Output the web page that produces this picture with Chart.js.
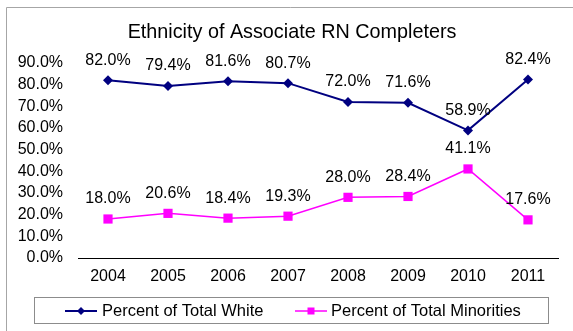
<!DOCTYPE html>
<html>
<head>
<meta charset="utf-8">
<script src="https://cdn.jsdelivr.net/npm/chart.js@4/dist/chart.umd.min.js"></script>
<style>
  html, body { margin: 0; padding: 0; background: #fff; }
  #wrap { width: 573px; height: 331px; position: relative; }
</style>
</head>
<body>
<div id="wrap"><canvas id="c" width="573" height="331"></canvas></div>
<script>
const title = 'Ethnicity of Associate RN Completers';
const years = ['2004', '2005', '2006', '2007', '2008', '2009', '2010', '2011'];
const whiteLabel = 'Percent of Total White';
const minorityLabel = 'Percent of Total Minorities';
const whiteValues = [82.0, 79.4, 81.6, 80.7, 72.0, 71.6, 58.9, 82.4];
const minorityValues = [18.0, 20.6, 18.4, 19.3, 28.0, 28.4, 41.1, 17.6];
const yMin = 0, yMax = 90, yStep = 10;

const NAVY = '#000080';
const MAGENTA = '#FF00FF';
const FONT = '"Liberation Sans", Arial, sans-serif';

const decorPlugin = {
  id: 'decor',
  beforeDraw(chart) {
    const ctx = chart.ctx;
    ctx.save();
    ctx.fillStyle = '#fff';
    ctx.fillRect(0, 0, chart.width, chart.height);
    ctx.strokeStyle = '#a6a6a6';
    ctx.lineWidth = 1;
    ctx.beginPath();
    ctx.moveTo(6.5, 400);
    ctx.lineTo(6.5, 7.5);
    ctx.lineTo(700, 7.5);
    ctx.stroke();
    // title
    ctx.fillStyle = '#000';
    ctx.font = '19.8px ' + FONT;
    ctx.textAlign = 'center';
    ctx.textBaseline = 'middle';
    ctx.fillText(title, 292, 33);
    ctx.restore();
  },
  afterDatasetsDraw(chart) {
    const ctx = chart.ctx;
    ctx.save();
    ctx.fillStyle = '#000';
    ctx.font = '16px ' + FONT;
    ctx.textAlign = 'center';
    ctx.textBaseline = 'middle';
    chart.data.datasets.forEach((ds, i) => {
      const meta = chart.getDatasetMeta(i);
      meta.data.forEach((pt, j) => {
        ctx.fillText(ds.data[j].toFixed(1) + '%', pt.x, pt.y - 20);
      });
    });
    // legend
    ctx.strokeStyle = '#8c8c8c';
    ctx.lineWidth = 1;
    ctx.strokeRect(34.5, 297.5, 514, 26);
    const ly = 311;
    ctx.strokeStyle = NAVY; ctx.lineWidth = 2;
    ctx.beginPath(); ctx.moveTo(65, ly); ctx.lineTo(97, ly); ctx.stroke();
    ctx.fillStyle = NAVY;
    ctx.beginPath(); ctx.moveTo(81, ly - 4); ctx.lineTo(85, ly); ctx.lineTo(81, ly + 4); ctx.lineTo(77, ly); ctx.closePath(); ctx.fill();
    ctx.strokeStyle = MAGENTA; ctx.lineWidth = 1.5;
    ctx.beginPath(); ctx.moveTo(295, ly); ctx.lineTo(327, ly); ctx.stroke();
    ctx.fillStyle = MAGENTA;
    ctx.fillRect(307.5, ly - 3.5, 7, 7);
    ctx.fillStyle = '#000';
    ctx.font = '16.5px ' + FONT;
    ctx.textAlign = 'left';
    ctx.fillText(whiteLabel, 102, ly);
    ctx.fillText(minorityLabel, 331, ly);
    ctx.restore();
  }
};

new Chart(document.getElementById('c'), {
  type: 'line',
  data: {
    labels: years,
    datasets: [
      {
        label: whiteLabel,
        data: whiteValues,
        borderColor: NAVY,
        backgroundColor: NAVY,
        borderWidth: 2,
        pointStyle: 'rectRot',
        pointRadius: 5,
        pointBorderWidth: 0,
        tension: 0,
        clip: false
      },
      {
        label: minorityLabel,
        data: minorityValues,
        borderColor: MAGENTA,
        backgroundColor: MAGENTA,
        borderWidth: 1.5,
        pointStyle: 'rect',
        pointRadius: 6.5,
        pointBorderWidth: 0,
        tension: 0,
        clip: false
      }
    ]
  },
  options: {
    responsive: false,
    animation: false,
    events: [],
    layout: { padding: { top: 63, left: 0, right: 15, bottom: 45 } },
    plugins: {
      legend: { display: false },
      title: { display: false },
      tooltip: { enabled: false }
    },
    scales: {
      x: {
        offset: true,
        grid: { display: false, drawTicks: false },
        border: { display: true, color: '#000', width: 1 },
        ticks: { color: '#000', font: { family: FONT, size: 16 }, padding: 9, maxRotation: 0, autoSkip: false },
        afterFit(scale) { scale.height = 28; }
      },
      y: {
        min: yMin,
        max: yMax,
        grid: { display: false, drawTicks: false },
        border: { display: false },
        ticks: {
          stepSize: yStep,
          autoSkip: false,
          color: '#000',
          font: { family: FONT, size: 16 },
          padding: 15,
          callback: v => v.toFixed(1) + '%'
        },
        afterFit(scale) { scale.width = 78; }
      }
    }
  },
  plugins: [decorPlugin]
});
</script>
</body>
</html>
